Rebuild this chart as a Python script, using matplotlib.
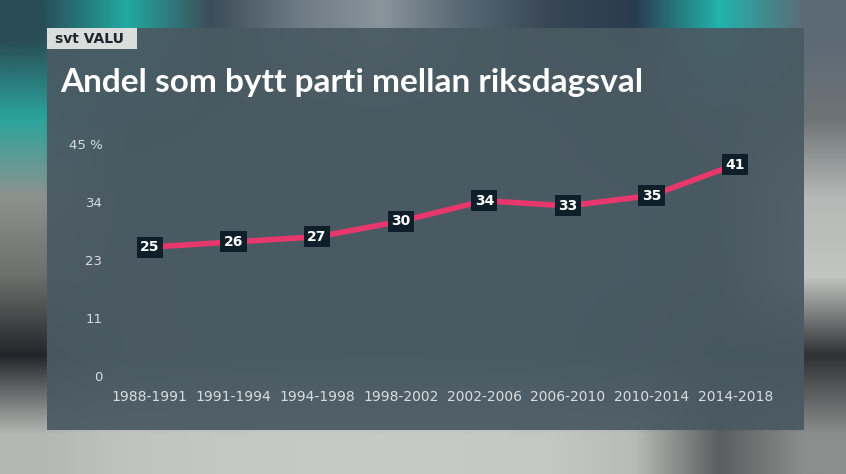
import numpy as np
import matplotlib.pyplot as plt
from matplotlib.patches import Rectangle
from matplotlib.colors import to_rgb

# data
periods = ['1988-1991', '1991-1994', '1994-1998', '1998-2002',
           '2002-2006', '2006-2010', '2010-2014', '2014-2018']
share = [25, 26, 27, 30, 34, 33, 35, 41]
ytick_vals = [0, 11.25, 22.5, 33.75, 45]
ytick_labels = ['0', '11', '23', '34', '45 %']

W, H = 846, 474
fig = plt.figure(figsize=(W / 100, H / 100), dpi=100)

# blurred tv-studio background (coarse colour grid, smoothed)
bg_rows = [
    ['#2a4c56', '#22aaa2', '#3c4c58', '#6c7a84', '#8a959c', '#566672', '#384654', '#2a3c50', '#22b4ac', '#5c6a76'],
    ['#2aa49c', '#3e5860', '#4a5a62', '#4e5e66', '#50606a', '#4e5e68', '#4a5a64', '#46545e', '#4e5c66', '#6e7476'],
    ['#8e928e', '#505c62', '#4e5c64', '#4e5e66', '#50606a', '#4e5e68', '#4c5c66', '#4a5a64', '#46525a', '#b4b8b6'],
    ['#6c706c', '#4c585e', '#4e5c64', '#50606a', '#52626c', '#50606a', '#4e5e68', '#4a5a64', '#3c464c', '#c2c6c2'],
    ['#22262a', '#4a565c', '#4e5c64', '#52626a', '#54646c', '#52626a', '#4e5e66', '#3e4c56', '#2a3238', '#2e3234'],
    ['#b4b8b4', '#c0c4c0', '#c4c8c4', '#c6cac6', '#c6cac6', '#c6cac6', '#c4c8c4', '#b8bcb8', '#5a5e5e', '#8a8e8c'],
]
grid = np.array([[to_rgb(c) for c in row] for row in bg_rows])
bg = fig.add_axes([0, 0, 1, 1])
bg.imshow(grid, aspect='auto', interpolation='bilinear', extent=[0, 1, 0, 1])
bg.set_xlim(0, 1)
bg.set_ylim(0, 1)
bg.axis('off')

def px(x, y):
    return x / W, 1 - y / H

# dark panel
bg.add_patch(Rectangle(px(47, 430), (804 - 47) / W, (430 - 28) / H,
                       facecolor='#4a5a63', alpha=0.93, edgecolor='none'))

# svt valu tag
bg.add_patch(Rectangle(px(47, 49), 90 / W, 21 / H, facecolor='#d9dddc', edgecolor='none'))
fig.text(*px(55, 39), 'svt VALU', color='#1c262c', fontsize=10, fontweight='bold',
         va='center', ha='left')

# title
fig.text(*px(60, 92), 'Andel som bytt parti mellan riksdagsval', color='white',
         fontsize=24, fontweight='bold', family=['Lato', 'DejaVu Sans'],
         va='baseline', ha='left')

# chart
ax = fig.add_axes([108 / W, 1 - 376 / H, 669 / W, 232 / H])
ax.patch.set_visible(False)
for s in ax.spines.values():
    s.set_visible(False)
x = np.arange(len(periods))
ax.plot(x, share, color='#e8376c', lw=4, solid_joinstyle='round', solid_capstyle='round')
for i, v in enumerate(share):
    ax.text(i, v, str(v), ha='center', va='center', color='white', fontsize=10,
            fontweight='bold',
            bbox=dict(boxstyle='square,pad=0.25', facecolor='#0f1f29', edgecolor='none'))
ax.set_xlim(-0.5, len(periods) - 0.5)
ax.set_ylim(0, 45)
ax.set_xticks(x, periods)
ax.set_yticks(ytick_vals, ytick_labels)
ax.tick_params(axis='both', length=0, colors='#d8dde0', labelsize=10)
ax.tick_params(axis='x', pad=10)
ax.tick_params(axis='y', pad=4, labelsize=9.5)

fig.savefig('out.png', dpi=100)
